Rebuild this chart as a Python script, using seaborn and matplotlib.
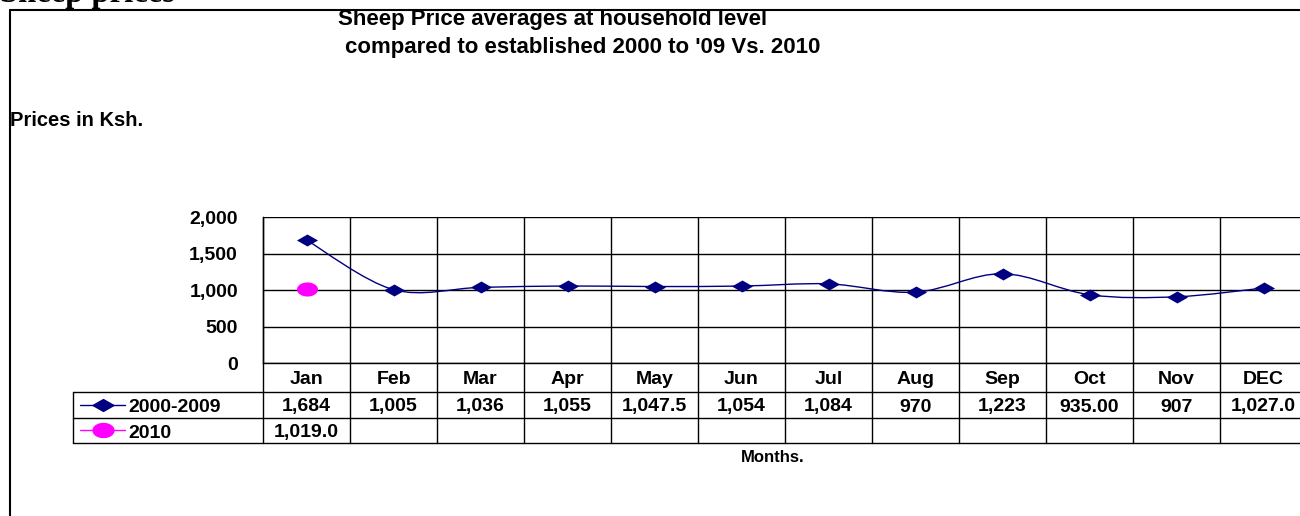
import numpy as np
import seaborn as sns
import matplotlib.pyplot as plt
from matplotlib.path import Path
from matplotlib.patches import PathPatch
from matplotlib.lines import Line2D
from matplotlib.transforms import blended_transform_factory

months = ["Jan", "Feb", "Mar", "Apr", "May", "Jun", "Jul", "Aug", "Sep", "Oct", "Nov", "DEC"]
avg_0009 = [1684, 1005, 1036, 1055, 1047.5, 1054, 1084, 970, 1223, 935.00, 907, 1027.0]
avg_0009_txt = ["1,684", "1,005", "1,036", "1,055", "1,047.5", "1,054", "1,084", "970",
                "1,223", "935.00", "907", "1,027.0"]
avg_2010 = [1019.0]
avg_2010_txt = ["1,019.0"]
yticks = [0, 500, 1000, 1500, 2000]

sns.set_style("white")
plt.rcParams['font.family'] = ['Liberation Sans', 'DejaVu Sans']
plt.rcParams['font.weight'] = 'bold'
plt.rcParams['text.color'] = 'black'
plt.rcParams['ytick.color'] = 'black'
plt.rcParams['ytick.labelcolor'] = 'black'

W, H = 1300, 516
def fx(p): return p / W
def fy(p): return 1 - p / H

NAVY = "#000080"
PINK = "#FF00FF"
FS = 14

# squashed markers, like the stretched excel picture
diamond = Path([(-1, 0), (0, 0.57), (1, 0), (0, -0.57), (-1, 0)],
               [Path.MOVETO, Path.LINETO, Path.LINETO, Path.LINETO, Path.CLOSEPOLY])
t = np.linspace(0, 2 * np.pi, 40)
ellipse = Path(np.column_stack([np.cos(t), 0.67 * np.sin(t)]))

fig = plt.figure(figsize=(13, 5.16), dpi=100)
ax = fig.add_axes([fx(263), fy(363), fx(1307) - fx(263), fy(217) - fy(363)])

x = np.arange(len(months))

# excel style smoothed line (bezier through the points)
pts = np.column_stack([x, avg_0009]).astype(float)
verts = [pts[0]]
codes = [Path.MOVETO]
n = len(pts)
for i in range(n - 1):
    p0 = pts[max(i - 1, 0)]
    p1 = pts[i]
    p2 = pts[i + 1]
    p3 = pts[min(i + 2, n - 1)]
    verts += [p1 + (p2 - p0) / 6, p2 - (p3 - p1) / 6, p2]
    codes += [Path.CURVE4] * 3
ax.add_patch(PathPatch(Path(verts, codes), facecolor="none", edgecolor=NAVY, lw=1, zorder=3))

sns.scatterplot(x=x, y=avg_0009, marker=diamond, s=230, color=NAVY, edgecolor=NAVY,
                linewidth=0, ax=ax, zorder=4)
sns.scatterplot(x=x[:len(avg_2010)], y=avg_2010, marker=ellipse, s=230, color=PINK,
                edgecolor=PINK, linewidth=0, ax=ax, zorder=4)

ax.set_xlim(-0.5, len(months) - 0.5)
ax.set_ylim(0, 2000)
ax.set_yticks(yticks)
ax.set_yticklabels([f"{v:,}" for v in yticks], fontsize=FS, fontweight="bold", color="black")
ax.set_xticks([])
ax.tick_params(axis="y", direction="out", length=6, width=1, color="black", pad=12)
ax.yaxis.grid(True, color="black", lw=1)
for s in ["top", "right"]:
    ax.spines[s].set_visible(False)
for s in ["left", "bottom"]:
    ax.spines[s].set_color("black")
    ax.spines[s].set_linewidth(1)
ax.set_xlabel("")
ax.set_ylabel("")

# table under the plot
bt = blended_transform_factory(ax.transData, fig.transFigure)
for b in np.arange(len(months) + 1) - 0.5:
    ax.plot([b, b], [fy(217), fy(443)], color="black", lw=1, transform=bt, clip_on=False)
for yy in [392, 418, 443]:
    fig.add_artist(Line2D([fx(73), fx(1300)], [fy(yy), fy(yy)], color="black", lw=1))
fig.add_artist(Line2D([fx(73), fx(73)], [fy(392), fy(443)], color="black", lw=1))

for i, m in enumerate(months):
    ax.text(i, fy(380), m, transform=bt, ha="center", va="center", fontsize=FS, fontweight="bold")
for i, s in enumerate(avg_0009_txt):
    ax.text(i, fy(407), s, transform=bt, ha="center", va="center", fontsize=FS, fontweight="bold")
for i, s in enumerate(avg_2010_txt):
    ax.text(i, fy(432), s, transform=bt, ha="center", va="center", fontsize=FS, fontweight="bold")

# legend keys inside the table
fig.add_artist(Line2D([fx(80), fx(125)], [fy(405), fy(405)], color=NAVY, lw=1))
fig.add_artist(Line2D([fx(103)], [fy(405)], marker=diamond, markersize=15, color=NAVY, lw=0))
fig.add_artist(Line2D([fx(80), fx(125)], [fy(430), fy(430)], color=PINK, lw=1))
fig.add_artist(Line2D([fx(103)], [fy(430)], marker=ellipse, markersize=15, color=PINK, lw=0))
fig.text(fx(128), fy(408), "2000-2009", ha="left", va="center", fontsize=FS, fontweight="bold")
fig.text(fx(128), fy(433), "2010", ha="left", va="center", fontsize=FS, fontweight="bold")

# titles and labels
fig.text(fx(553), fy(19), "Sheep Price averages at household level", ha="center", va="center",
         fontsize=16, fontweight="bold")
fig.text(fx(583), fy(48), "compared to established 2000 to '09 Vs. 2010", ha="center", va="center",
         fontsize=16, fontweight="bold")
fig.text(fx(10), fy(120), "Prices in Ksh.", ha="left", va="center", fontsize=14.5, fontweight="bold")
fig.text(fx(773), fy(458), "Months.", ha="center", va="center", fontsize=12, fontweight="bold")
fig.text(fx(0), fy(2), "Sheep prices", ha="left", va="baseline", fontsize=23.5, fontweight="bold",
         family="Liberation Serif")

# outer frame
fig.add_artist(Line2D([fx(10), fx(1300)], [fy(10), fy(10)], color="black", lw=1.5))
fig.add_artist(Line2D([fx(10), fx(10)], [fy(10), fy(516)], color="black", lw=1.5))

fig.savefig("out.png", dpi=100)
